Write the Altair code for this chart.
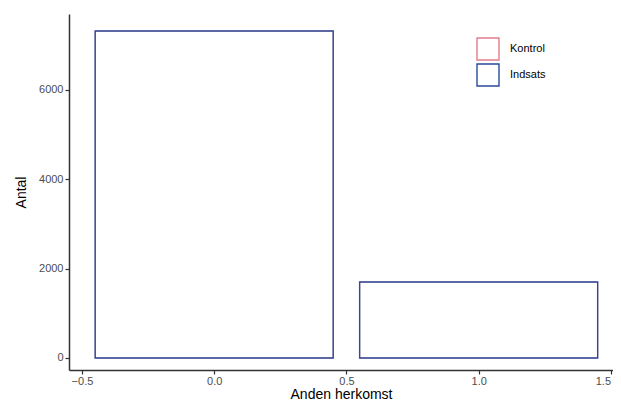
import altair as alt
import pandas as pd

groups = ["Kontrol", "Indsats"]
categories = [0, 1]
kontrol_counts = [7320, 1700]
indsats_counts = [7320, 1700]
bar_width = 0.9

rows = []
for g, vals in zip(groups, [kontrol_counts, indsats_counts]):
    for c, v in zip(categories, vals):
        rows.append({"gruppe": g, "herkomst": c, "antal": v})
df = pd.DataFrame(rows)

font = "Liberation Sans"

stroke_scale = alt.Scale(domain=groups, range=["#e27c8f", "#2a4b9b"])

base = alt.Chart(df).transform_calculate(
    x0=f"datum.herkomst - {bar_width / 2}",
    x1=f"datum.herkomst + {bar_width / 2}",
)


def layer_for(group, width):
    return (
        base.transform_filter(alt.datum.gruppe == group)
        .mark_rect(fill="white", fillOpacity=0, strokeWidth=width)
        .encode(
            x=alt.X(
                "x0:Q",
                title="Anden herkomst",
                scale=alt.Scale(domain=[-0.549, 1.508], nice=False, zero=False),
                axis=alt.Axis(
                    values=[-0.5, 0, 0.5, 1.0, 1.5],
                    format=".1f",
                    grid=False,
                    titlePadding=1,
                    labelPadding=1,
                    labelOffset={"condition": {"test": "datum.value == 1.5", "value": -8}, "value": 0},
                ),
            ),
            x2="x1:Q",
            y=alt.Y(
                "antal:Q",
                title="Antal",
                scale=alt.Scale(domain=[-269, 7701], nice=False, zero=False),
                axis=alt.Axis(values=[0, 2000, 4000, 6000], format="d", grid=False,
                              titlePadding=10),
            ),
            y2=alt.datum(0),
            stroke=alt.Stroke(
                "gruppe:N",
                scale=stroke_scale,
                legend=alt.Legend(
                    title=None,
                    orient="none",
                    legendX=407,
                    legendY=23,
                    symbolType="square",
                    symbolSize=484,
                    symbolStrokeWidth=1.4,
                    symbolFillColor="white",
                    symbolOpacity=1,
                    labelFont=font,
                    labelFontSize=11,
                    labelColor="#000000",
                    rowPadding=-6,
                    labelOffset=10,
                ),
            ),
        )
    )


chart = (
    alt.layer(layer_for("Kontrol", 1.0), layer_for("Indsats", 1.4))
    .properties(
        width=544,
        height=356,
        autosize=alt.AutoSizeParams(type="none"),
        padding={"left": 61, "top": 6, "right": 0, "bottom": 34},
    )
    .configure_view(stroke=None)
    .configure_axis(
        domainColor="#333333",
        domainWidth=1.5,
        tickColor="#333333",
        tickWidth=1.2,
        tickSize=4,
        labelFont=font,
        labelFontSize=11,
        labelColor="#4d4d4d",
        labelPadding=2,
        titleFont=font,
        titleFontSize=14,
        titleFontWeight="normal",
        titleColor="#000000",
    )
)

chart.save("out.html", embed_options={"renderer": "svg", "actions": False})
